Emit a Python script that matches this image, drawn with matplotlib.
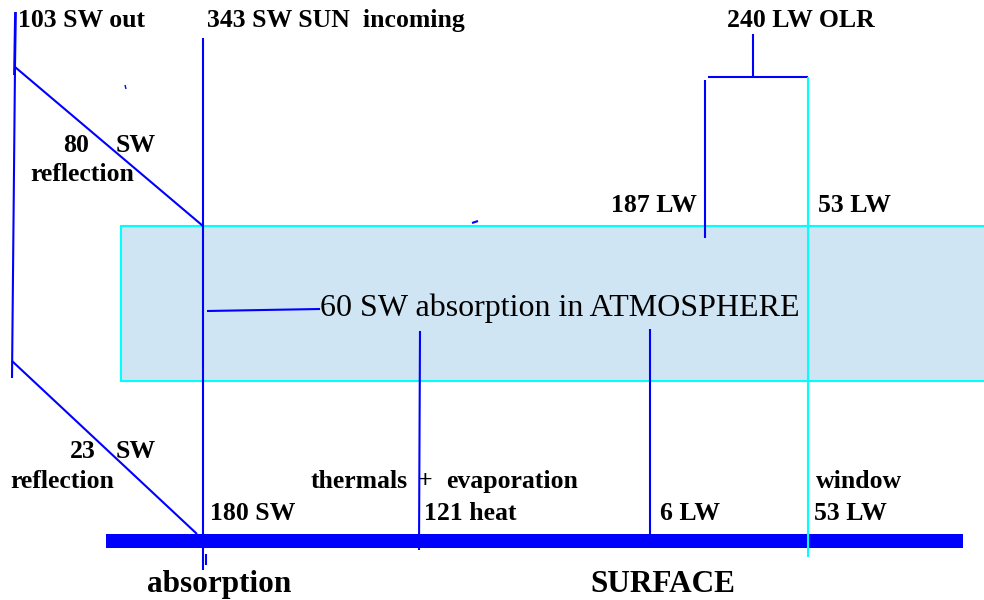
import matplotlib.pyplot as plt
from matplotlib.patches import Rectangle

# energy fluxes (W/m2)
sw_in = 343
sw_out = 103
sw_refl_atm = 80
sw_refl_sfc = 23
sw_abs_atm = 60
sw_abs_sfc = 180
heat = 121
lw_atm = 187
lw_sfc = 6
lw_window = 53
olr = 240

plt.rcParams['font.family'] = ['Liberation Serif', 'DejaVu Serif']

fig = plt.figure(figsize=(9.84, 6), dpi=100)
ax = fig.add_axes([0, 0, 1, 1])
ax.set_xlim(0, 984)
ax.set_ylim(600, 0)
ax.axis('off')

blue = '#0000ff'
cyan = '#00ffff'

# atmosphere layer
ax.add_patch(Rectangle((121, 226), 880, 155, facecolor='#cfe5f3',
                       edgecolor=cyan, lw=1.5, zorder=1))
# surface
ax.add_patch(Rectangle((106, 534), 857, 14, facecolor=blue,
                       edgecolor='none', zorder=3))

def line(xs, ys, c=blue, lw=1.5):
    ax.plot(xs, ys, color=c, lw=lw, solid_capstyle='butt', zorder=5)

# reflected shortwave
line([15.5, 14.5], [12, 75], lw=2)
line([15, 12], [67, 378])
line([15, 203], [67, 226])
line([12, 197], [361, 534])
# incoming sun
line([203, 203], [38, 570])
line([206, 206], [554, 565])
line([207, 320], [311, 309])
# thermals and surface LW
line([420, 419], [331, 550])
line([650, 650], [329, 545])
# OLR bracket
line([705, 705], [80, 238])
line([708, 808], [77, 77])
line([753, 753], [34, 77])
line([808, 808], [77, 557], c=cyan)
# stray marks
line([125, 126], [85, 89], lw=1)
line([472, 478], [223, 221], lw=1.5)

bold = dict(fontsize=18.5, fontweight='bold', va='baseline', zorder=4)
ax.text(18, 27, f'{sw_out} SW out', **bold)
ax.text(207, 27, f'{sw_in} SW SUN  incoming', **bold)
ax.text(727, 27, f'{olr} LW OLR', **bold)
ax.text(63, 152, f'{sw_refl_atm}', **bold)
ax.text(116, 152, 'SW', **bold)
ax.text(30, 181, 'reflection', **bold)
ax.text(611, 212, f'{lw_atm} LW', **bold)
ax.text(818, 212, f'{lw_window} LW', **bold)
ax.text(70, 458, f'{sw_refl_sfc}', **bold)
ax.text(116, 458, 'SW', **bold)
ax.text(10, 488, 'reflection', **bold)
ax.text(210, 520, f'{sw_abs_sfc} SW', **bold)
ax.text(311, 488, 'thermals', **bold)
ax.text(418, 488, '+', **bold)
ax.text(446, 488, 'evaporation', **bold)
ax.text(424, 520, f'{heat} heat', **bold)
ax.text(660, 520, f'{lw_sfc} LW', **bold)
ax.text(816, 488, 'window', **bold)
ax.text(814, 520, f'{lw_window} LW', **bold)
ax.text(320, 316, f'{sw_abs_atm} SW absorption in ATMOSPHERE', fontsize=23,
        va='baseline', zorder=4)
ax.text(147, 592, 'absorption', fontsize=22.5, fontweight='bold',
        va='baseline', zorder=4)
ax.text(590, 592, 'SURFACE', fontsize=22.5, fontweight='bold',
        va='baseline', zorder=4)

fig.savefig('out.png', dpi=100)
